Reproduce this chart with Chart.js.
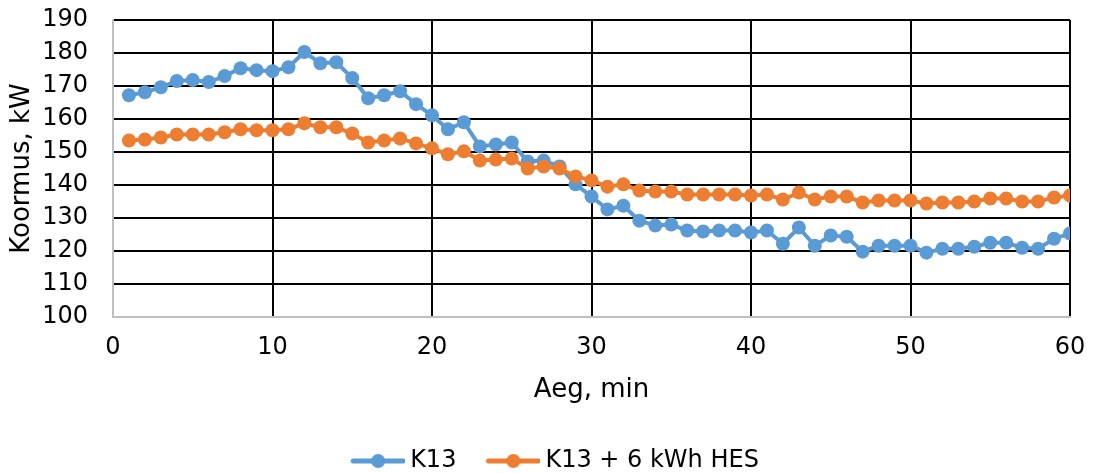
<!DOCTYPE html>
<html>
<head>
<meta charset="utf-8">
<script src="https://cdn.jsdelivr.net/npm/chart.js@4"></script>
<style>
  html, body { margin: 0; padding: 0; background: #fff; }
  #wrap { width: 1093px; height: 473px; }
</style>
</head>
<body>
<div id="wrap"><canvas id="chart"></canvas></div>
<script>
// =========================
//  DATA
// =========================
const minutes = [];
for (let m = 1; m <= 60; m++) minutes.push(m);

const k13 = [
  167.2, 168.1, 169.6, 171.5, 171.8, 171.2, 173.0, 175.4, 174.8, 174.5,
  175.7, 180.3, 176.9, 177.2, 172.4, 166.3, 167.2, 168.4, 164.5, 161.1,
  156.9, 159.0, 151.7, 152.3, 152.9, 147.1, 147.4, 145.6, 140.2, 136.5,
  132.6, 133.7, 129.2, 127.7, 128.0, 126.2, 125.9, 126.2, 126.2, 125.6,
  126.2, 122.2, 127.1, 121.6, 124.7, 124.3, 119.8, 121.6, 121.6, 121.6,
  119.5, 120.7, 120.7, 121.3, 122.5, 122.5, 121.0, 120.7, 123.7, 125.3
];

const k13Hes = [
  153.5, 153.8, 154.4, 155.3, 155.3, 155.3, 156.0, 156.9, 156.6, 156.6,
  156.9, 158.7, 157.5, 157.5, 155.6, 152.9, 153.5, 154.1, 152.6, 151.1,
  149.3, 150.2, 147.4, 147.7, 148.0, 145.0, 145.6, 145.0, 142.6, 141.4,
  139.5, 140.2, 138.3, 138.0, 138.0, 137.1, 137.1, 137.1, 137.1, 136.8,
  137.1, 135.6, 137.7, 135.6, 136.5, 136.5, 134.7, 135.3, 135.3, 135.3,
  134.4, 134.7, 134.7, 135.0, 135.9, 135.9, 135.0, 135.0, 136.2, 136.8
];

const seriesNames = ["K13", "K13 + 6 kWh HES"];
const seriesColors = ["#5B9BD5", "#ED7D31"];

// =========================
//  LEGEND SYMBOL (line + dot)
// =========================
// image is wider than the legend box so the gap before the text stays small
function legendSymbol(color) {
  const c = document.createElement("canvas");
  c.width = 81;
  c.height = 16;
  const ctx = c.getContext("2d");
  ctx.strokeStyle = color;
  ctx.lineWidth = 5;
  ctx.lineCap = "round";
  ctx.beginPath();
  ctx.moveTo(29, 8);
  ctx.lineTo(79, 8);
  ctx.stroke();
  ctx.fillStyle = color;
  ctx.beginPath();
  ctx.arc(54, 8, 7, 0, Math.PI * 2);
  ctx.fill();
  return c;
}

function toPoints(values) {
  return values.map((v, i) => ({ x: minutes[i], y: v }));
}

// =========================
//  CHART
// =========================
Chart.defaults.font.family = "'DejaVu Sans', Verdana, sans-serif";
Chart.defaults.color = "#000";

new Chart(document.getElementById("chart"), {
  type: "line",
  data: {
    datasets: [
      {
        label: seriesNames[0],
        data: toPoints(k13),
        borderColor: seriesColors[0],
        backgroundColor: seriesColors[0],
        borderWidth: 4,
        pointRadius: 7,
        pointHoverRadius: 7,
        pointBorderWidth: 0,
        tension: 0,
        order: 2
      },
      {
        label: seriesNames[1],
        data: toPoints(k13Hes),
        borderColor: seriesColors[1],
        backgroundColor: seriesColors[1],
        borderWidth: 4,
        pointRadius: 7,
        pointHoverRadius: 7,
        pointBorderWidth: 0,
        tension: 0,
        order: 1
      }
    ]
  },
  options: {
    responsive: true,
    maintainAspectRatio: false,
    animation: false,
    layout: { padding: { left: 20, right: 23, top: 20, bottom: -10 } },
    plugins: {
      tooltip: { enabled: false },
      legend: {
        position: "bottom",
        labels: {
          usePointStyle: true,
          pointStyleWidth: 67,
          padding: 10,
          font: { size: 24 },
          sort: (a, b) => a.datasetIndex - b.datasetIndex,
          generateLabels: chart => chart.data.datasets.map((ds, i) => ({
            text: ds.label,
            datasetIndex: i,
            pointStyle: legendSymbol(seriesColors[i]),
            fillStyle: seriesColors[i],
            strokeStyle: seriesColors[i],
            lineWidth: 0,
            fontColor: "#000"
          }))
        }
      }
    },
    scales: {
      x: {
        type: "linear",
        min: 0,
        max: 60,
        ticks: { stepSize: 10, font: { size: 24 }, padding: 16, autoSkip: false, maxRotation: 0 },
        grid: { color: "#000", lineWidth: 2, drawTicks: false },
        border: { color: "#bfbfbf", width: 2 },
        title: { display: true, text: "Aeg, min", font: { size: 26 }, padding: { top: 0, bottom: 33 } },
        afterFit: scale => {
          scale.height = 122;
          scale.paddingLeft = 0;
          scale.paddingRight = 0;
        }
      },
      y: {
        min: 100,
        max: 190,
        ticks: { stepSize: 10, font: { size: 24 }, padding: 25, autoSkip: false },
        grid: { color: "#000", lineWidth: 2, drawTicks: false },
        border: { color: "#bfbfbf", width: 2 },
        title: { display: true, text: "Koormus, kW", font: { size: 26 }, padding: { top: -13, bottom: 0 } },
        afterFit: scale => {
          scale.width = 93;
          scale.paddingTop = 0;
          scale.paddingBottom = 0;
        }
      }
    }
  }
});
</script>
</body>
</html>
